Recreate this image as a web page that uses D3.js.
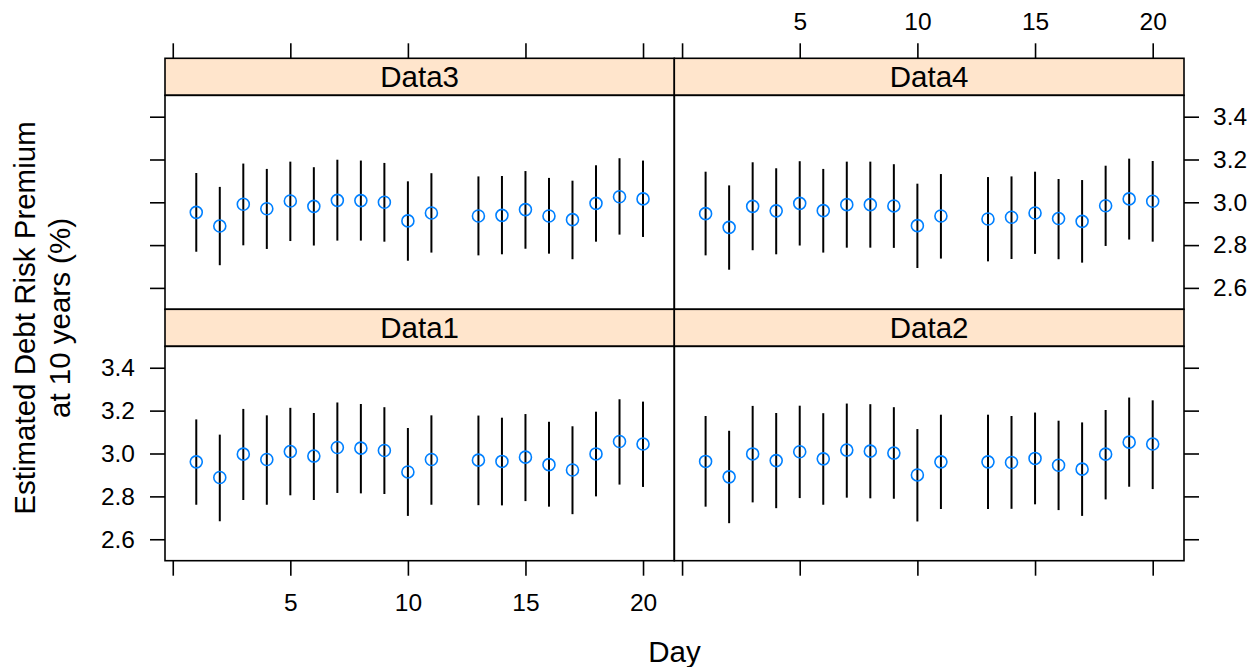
<!DOCTYPE html>
<html>
<head>
<meta charset="utf-8">
<script src="https://cdn.jsdelivr.net/npm/d3@7/dist/d3.min.js"></script>
<style>
  html, body { margin: 0; padding: 0; background: #ffffff; }
  svg text { font-family: "Liberation Sans", Arial, Helvetica, sans-serif; fill: #000; }
</style>
</head>
<body>
<svg id="chart" width="1258" height="667"></svg>
<script>
// Observation days (no observation on day 12)
const days = [1, 2, 3, 4, 5, 6, 7, 8, 9, 10, 11, 13, 14, 15, 16, 17, 18, 19, 20];

// Panel series: point estimate with lower / upper interval bounds
const data1Mean  = [2.961, 2.888, 2.997, 2.972, 3.009, 2.988, 3.028, 3.025, 3.014, 2.914, 2.972, 2.969, 2.963, 2.983, 2.948, 2.923, 2.998, 3.056, 3.044];
const data1Upper = [3.159, 3.088, 3.208, 3.178, 3.213, 3.189, 3.238, 3.231, 3.216, 3.119, 3.178, 3.177, 3.167, 3.184, 3.148, 3.127, 3.195, 3.253, 3.242];
const data1Lower = [2.761, 2.684, 2.783, 2.761, 2.805, 2.783, 2.816, 2.814, 2.811, 2.709, 2.761, 2.759, 2.758, 2.778, 2.752, 2.717, 2.800, 2.855, 2.844];

const data2Mean  = [2.963, 2.891, 2.998, 2.967, 3.008, 2.975, 3.016, 3.011, 3.002, 2.900, 2.961, 2.961, 2.958, 2.977, 2.945, 2.927, 2.997, 3.053, 3.044];
const data2Upper = [3.175, 3.106, 3.222, 3.189, 3.223, 3.188, 3.233, 3.230, 3.216, 3.114, 3.181, 3.181, 3.175, 3.191, 3.153, 3.145, 3.203, 3.261, 3.248];
const data2Lower = [2.752, 2.675, 2.772, 2.745, 2.792, 2.761, 2.794, 2.791, 2.789, 2.683, 2.741, 2.741, 2.742, 2.763, 2.736, 2.709, 2.786, 2.845, 2.834];

const data3Mean  = [2.953, 2.889, 2.991, 2.970, 3.006, 2.981, 3.009, 3.008, 3.000, 2.913, 2.950, 2.936, 2.939, 2.966, 2.936, 2.919, 2.995, 3.026, 3.016];
const data3Upper = [3.137, 3.072, 3.181, 3.156, 3.190, 3.164, 3.199, 3.195, 3.184, 3.098, 3.136, 3.121, 3.123, 3.146, 3.114, 3.101, 3.173, 3.206, 3.195];
const data3Lower = [2.769, 2.706, 2.799, 2.782, 2.819, 2.798, 2.821, 2.821, 2.816, 2.727, 2.765, 2.752, 2.757, 2.783, 2.760, 2.734, 2.816, 2.849, 2.838];

const data4Mean  = [2.947, 2.883, 2.981, 2.960, 2.995, 2.961, 2.989, 2.989, 2.983, 2.891, 2.936, 2.922, 2.930, 2.950, 2.924, 2.911, 2.984, 3.016, 3.005];
const data4Upper = [3.143, 3.079, 3.187, 3.159, 3.192, 3.156, 3.190, 3.190, 3.178, 3.087, 3.132, 3.118, 3.121, 3.143, 3.109, 3.104, 3.171, 3.204, 3.193];
const data4Lower = [2.752, 2.685, 2.776, 2.757, 2.798, 2.765, 2.788, 2.788, 2.787, 2.693, 2.737, 2.724, 2.735, 2.759, 2.734, 2.718, 2.796, 2.826, 2.816];

// Axis ticks and their labels
const xTicks = [0, 5, 10, 15, 20];
const xTickLabels = ["", "5", "10", "15", "20"];
const yTicks = [2.6, 2.8, 3.0, 3.2, 3.4];
const yTickLabels = ["2.6", "2.8", "3.0", "3.2", "3.4"];

const xDomain = [-0.33, 21.33];
const yDomain = [2.5, 3.5];

// Panels: name, grid row (0 = top), grid column (0 = left), series
const panels = [
  { name: "Data3", row: 0, col: 0, mean: data3Mean, lower: data3Lower, upper: data3Upper },
  { name: "Data4", row: 0, col: 1, mean: data4Mean, lower: data4Lower, upper: data4Upper },
  { name: "Data1", row: 1, col: 0, mean: data1Mean, lower: data1Lower, upper: data1Upper },
  { name: "Data2", row: 1, col: 1, mean: data2Mean, lower: data2Lower, upper: data2Upper }
];

// Layout
const colEdges = [[165, 674.3], [674.3, 1184]];
const rowEdges = [
  { strip: 58.3, top: 95.3, bottom: 309.3 },
  { strip: 309.3, top: 346.3, bottom: 560.7 }
];
const tickLen = 15;
const lineW = 1.6;
const stripFill = "#ffe5cc";
const pointColor = "#0080ff";
const tickFont = 24.5;
const titleFont = 29.5;

const svg = d3.select("#chart");

function styleAxis(g) {
  g.select(".domain").remove();
  g.selectAll(".tick line").attr("stroke", "#000").attr("stroke-width", lineW);
  g.selectAll(".tick text").attr("font-size", tickFont).attr("font-family", null);
}

panels.forEach(p => {
  const [x0, x1] = colEdges[p.col];
  const r = rowEdges[p.row];
  const x = d3.scaleLinear().domain(xDomain).range([x0, x1]);
  const y = d3.scaleLinear().domain(yDomain).range([r.bottom, r.top]);

  const g = svg.append("g").attr("class", "panel");

  // strip
  g.append("rect")
    .attr("x", x0).attr("y", r.strip)
    .attr("width", x1 - x0).attr("height", r.top - r.strip)
    .attr("fill", stripFill).attr("stroke", "#000").attr("stroke-width", lineW);
  g.append("text")
    .attr("x", (x0 + x1) / 2)
    .attr("y", (r.strip + r.top) / 2)
    .attr("dy", "0.36em")
    .attr("text-anchor", "middle")
    .attr("font-size", titleFont)
    .text(p.name);

  // interval bars
  const rows = days.map((d, i) => ({ day: d, mean: p.mean[i], lower: p.lower[i], upper: p.upper[i] }));
  g.selectAll("line.bar").data(rows).join("line")
    .attr("class", "bar")
    .attr("x1", d => x(d.day)).attr("x2", d => x(d.day))
    .attr("y1", d => y(d.lower)).attr("y2", d => y(d.upper))
    .attr("stroke", "#000").attr("stroke-width", 2);

  // point estimates
  g.selectAll("circle.pt").data(rows).join("circle")
    .attr("class", "pt")
    .attr("cx", d => x(d.day)).attr("cy", d => y(d.mean))
    .attr("r", 6)
    .attr("fill", "none").attr("stroke", pointColor).attr("stroke-width", 1.6);

  // panel frame
  g.append("rect")
    .attr("x", x0).attr("y", r.top)
    .attr("width", x1 - x0).attr("height", r.bottom - r.top)
    .attr("fill", "none").attr("stroke", "#000").attr("stroke-width", lineW);

  // x axis: top row gets top ticks (labels on right column), bottom row gets bottom ticks (labels on left column)
  if (p.row === 0) {
    const ax = d3.axisTop(x).tickValues(xTicks).tickSize(tickLen).tickSizeOuter(0).tickPadding(13)
      .tickFormat((d, i) => p.col === 1 ? xTickLabels[i] : "");
    svg.append("g").attr("transform", `translate(0,${r.strip})`).call(ax).call(styleAxis);
  } else {
    const ax = d3.axisBottom(x).tickValues(xTicks).tickSize(tickLen).tickSizeOuter(0).tickPadding(18)
      .tickFormat((d, i) => p.col === 0 ? xTickLabels[i] : "");
    svg.append("g").attr("transform", `translate(0,${r.bottom})`).call(ax).call(styleAxis);
  }

  // y axis: left column gets left ticks (labels on bottom row), right column gets right ticks (labels on top row)
  if (p.col === 0) {
    const ay = d3.axisLeft(y).tickValues(yTicks).tickSize(tickLen).tickSizeOuter(0).tickPadding(15)
      .tickFormat((d, i) => p.row === 1 ? yTickLabels[i] : "");
    svg.append("g").attr("transform", `translate(${x0},0)`).call(ay).call(styleAxis);
  } else {
    const ay = d3.axisRight(y).tickValues(yTicks).tickSize(tickLen).tickSizeOuter(0).tickPadding(14)
      .tickFormat((d, i) => p.row === 0 ? yTickLabels[i] : "");
    svg.append("g").attr("transform", `translate(${x1},0)`).call(ay).call(styleAxis);
  }
});

// axis titles
svg.append("text")
  .attr("x", 674.5).attr("y", 662)
  .attr("text-anchor", "middle")
  .attr("font-size", titleFont)
  .text("Day");

const yTitle = svg.append("text")
  .attr("transform", "translate(0,318) rotate(-90)")
  .attr("text-anchor", "middle")
  .attr("font-size", titleFont);
yTitle.append("tspan").attr("x", 0).attr("y", 35).text("Estimated Debt Risk Premium");
yTitle.append("tspan").attr("x", 0).attr("y", 70).text("at 10 years (%)");
</script>
</body>
</html>
